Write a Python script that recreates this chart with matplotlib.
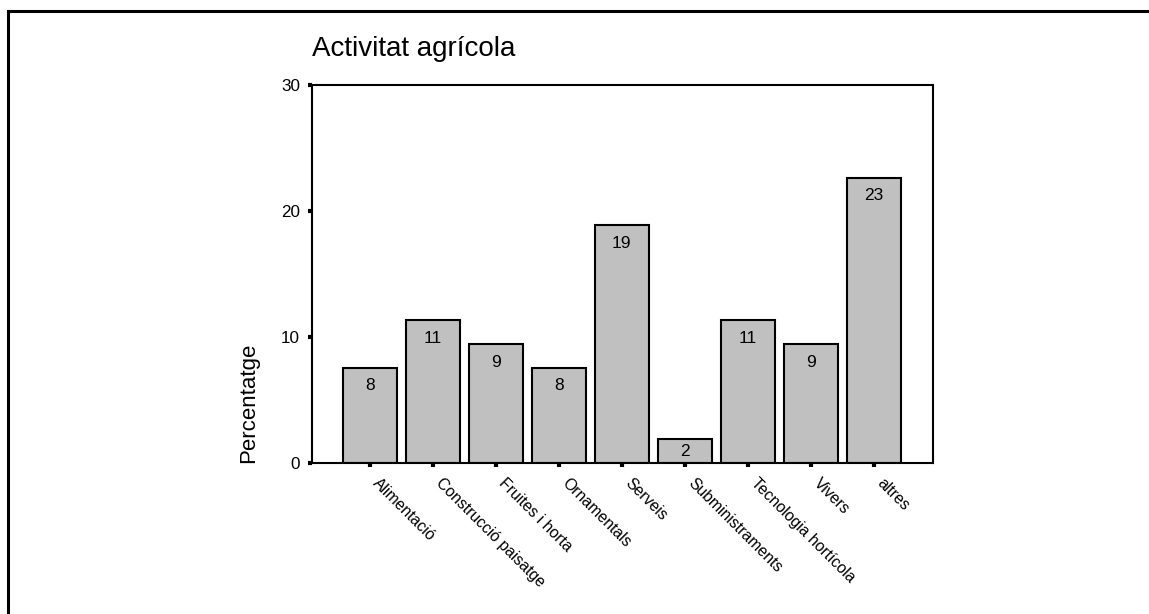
import numpy as np
import matplotlib
matplotlib.use('Agg')
import matplotlib.pyplot as plt
from matplotlib.patches import Rectangle
from matplotlib.transforms import ScaledTranslation

plt.rcParams['font.family'] = ['Liberation Sans', 'DejaVu Sans']

# percentatges (53 respostes)
categories = ['Alimentació', 'Construcció paisatge', 'Fruites i horta', 'Ornamentals',
              'Serveis', 'Subministraments', 'Tecnologia hortícola', 'Vivers', 'altres']
percentages = [7.55, 11.32, 9.43, 7.55, 18.87, 1.89, 11.32, 9.43, 22.64]
bar_labels = ['8', '11', '9', '8', '19', '2', '11', '9', '23']
y_ticks = [0, 10, 20, 30]

fig = plt.figure(figsize=(11.49, 6.14), dpi=100)
ax = fig.add_axes([0.2715, 0.2459, 0.5405, 0.6156])

x = np.arange(len(categories))
bars = ax.bar(x, percentages, width=0.857, color='#c0c0c0', edgecolor='black', linewidth=1.5)

# etiqueta dins la barra, a prop del capdamunt (o al centre si la barra és curta)
for b, lab in zip(bars, bar_labels):
    h = b.get_height()
    ypos = max(h - 1.43, h / 2)
    ax.text(b.get_x() + b.get_width() / 2, ypos, lab,
            ha='center', va='center', fontsize=12.5)

ax.set_xlim(-0.92, 8.94)
ax.set_ylim(0, 30)
ax.set_yticks(y_ticks)
ax.set_xticks(x)

for s in ax.spines.values():
    s.set_linewidth(1.5)
ax.tick_params(axis='both', direction='out', length=3, width=3)
ax.tick_params(axis='y', pad=5.5, labelsize=12.3)
ax.tick_params(axis='x', pad=10)

ax.set_xticklabels(categories, rotation=-45, ha='left', va='center',
                   rotation_mode='anchor', fontsize=11.3)
shift = ScaledTranslation(4 / 72, 0, fig.dpi_scale_trans)
for lbl in ax.get_xticklabels():
    lbl.set_transform(lbl.get_transform() + shift)

ax.set_title('Activitat agrícola', loc='left', fontsize=20, pad=21)
ax.set_ylabel('Percentatge', fontsize=16, loc='bottom')
ax.yaxis.set_label_coords(-0.085, 0)

# marc exterior
fig.add_artist(Rectangle((8 / 1149, -0.1), 1.2, 1.1 - 11 / 614, transform=fig.transFigure,
                         fill=False, edgecolor='black', linewidth=2.2, clip_on=False))

fig.savefig('out.png', dpi=100)
